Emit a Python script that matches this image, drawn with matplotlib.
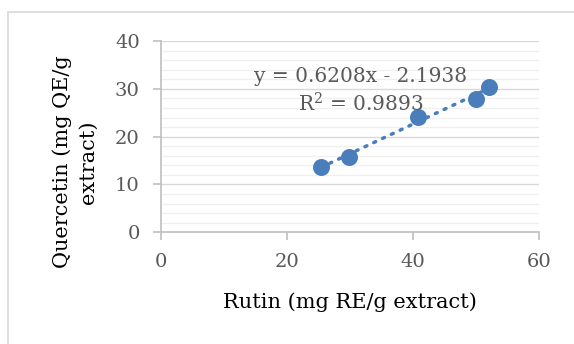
import numpy as np
import matplotlib.pyplot as plt
from matplotlib.patches import Rectangle

# values
rutin = [25.4, 29.8, 40.7, 49.9, 52.0]
quercetin = [13.6, 15.8, 24.2, 27.9, 30.3]
slope, intercept = 0.6208, -2.1938
eq_text = "y = 0.6208x - 2.1938"
r2_text = "R$^2$ = 0.9893"
x_ticks = [0, 20, 40, 60]
y_ticks = [0, 10, 20, 30, 40]

blue = '#4a7ebb'
grey_txt = '#595959'

plt.rcParams['font.family'] = ['DejaVu Serif']
plt.rcParams['mathtext.fontset'] = 'dejavuserif'

fig = plt.figure(figsize=(5.74, 3.44), dpi=100)
# light outer chart border (cut off at right/bottom)
fig.patches.append(Rectangle((8 / 574, -0.1), 1.2, (344 - 12) / 344 + 0.1,
                             transform=fig.transFigure, fill=False,
                             edgecolor='#d9d9d9', linewidth=1.2))

ax = fig.add_axes([160.7 / 574, (344 - 232.3) / 344,
                   (539.3 - 160.7) / 574, (232.3 - 41) / 344])

ax.set_xlim(0, 60)
ax.set_ylim(0, 40)
ax.set_xticks(x_ticks)
ax.set_yticks(y_ticks)
ax.set_yticks(np.arange(0, 41, 2), minor=True)

ax.grid(axis='y', which='major', color='#d9d9d9', linewidth=1)
ax.grid(axis='y', which='minor', color='#f0f0f0', linewidth=1)
ax.set_axisbelow(True)

for s in ['top', 'right']:
    ax.spines[s].set_visible(False)
for s in ['left', 'bottom']:
    ax.spines[s].set_color('#bfbfbf')
    ax.spines[s].set_linewidth(1.2)

ax.tick_params(axis='both', which='major', colors='#bfbfbf', labelcolor=grey_txt,
               labelsize=14, length=6, width=1.2)
ax.tick_params(axis='y', which='minor', length=0)
ax.tick_params(axis='x', pad=9)
ax.tick_params(axis='y', pad=9)

# trendline
xt = np.array([min(rutin), max(rutin)])
ax.plot(xt, slope * xt + intercept, linestyle=(0, (0.6, 2.2)), color=blue,
        linewidth=2.5, dash_capstyle='round', zorder=2)
ax.scatter(rutin, quercetin, s=150, color=blue, zorder=3, linewidths=0)

fig.text(361 / 574, 1 - 77 / 344, eq_text, ha='center', va='center',
         fontsize=14.5, color=grey_txt)
fig.text(361 / 574, 1 - 104 / 344, r2_text, ha='center', va='center',
         fontsize=14.5, color=grey_txt)

fig.text(350 / 574, 1 - 302 / 344, 'Rutin (mg RE/g extract)', ha='center',
         va='center', fontsize=15, color='black')
fig.text(75 / 574, 1 - 162 / 344, 'Quercetin (mg QE/g\nextract)', ha='center',
         va='center', rotation=90, fontsize=15, color='black', linespacing=1.45,
         multialignment='center')

fig.savefig('out.png', dpi=100)
